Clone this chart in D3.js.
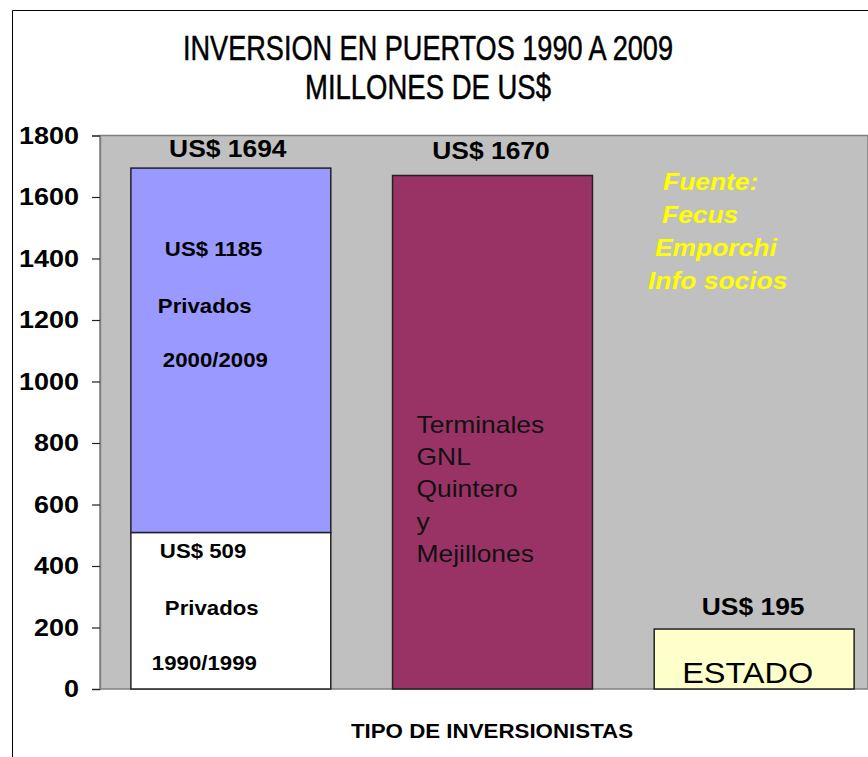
<!DOCTYPE html>
<html>
<head>
<meta charset="utf-8">
<script src="https://cdn.jsdelivr.net/npm/d3@7"></script>
<style>
  body { margin: 0; background: #fff; }
  svg { display: block; }
  text { font-family: "Liberation Sans", Arial, sans-serif; }
</style>
</head>
<body>
<div id="chart"></div>
<script>
// data
let categories = ['Privados', 'Terminales GNL', 'Estado'];
let seriesNames = ['1990/1999', '2000/2009'];
let privados = [509, 1185];          // bottom, top
let terminales = [1670];
let estado = [195];
let yTicks = [0, 200, 400, 600, 800, 1000, 1200, 1400, 1600, 1800];
let fuente = ['Fuente:', 'Fecus', 'Emporchi', 'Info socios'];
let gnlLines = ['Terminales', 'GNL', 'Quintero', 'y', 'Mejillones'];

let width = 868;
let height = 757;
let stretch = 1.1;   // text in the original is a bit wide

let svg = d3.select('#chart')
    .append('svg')
    .attr('width', width)
    .attr('height', height);

// outer frame
svg.append('path')
    .attr('d', 'M12.5,757 L12.5,10.5 L868,10.5')
    .attr('fill', 'none')
    .attr('stroke', '#000')
    .attr('stroke-width', 1);

let x = d3.scaleBand()
    .domain(categories)
    .range([100, 885])
    .paddingInner(0.236)
    .paddingOuter(0.118);

let y = d3.scaleLinear()
    .domain([0, 1800])
    .range([689, 135.5]);

// plot background
svg.append('rect')
    .attr('x', 100)
    .attr('y', y(1800))
    .attr('width', width - 100)
    .attr('height', y(0) - y(1800))
    .attr('fill', '#c0c0c0')
    .attr('stroke', '#808080')
    .attr('stroke-width', 1.5);

// y axis
let yAxis = d3.axisLeft(y)
    .tickValues(yTicks)
    .tickFormat(d3.format('d'))
    .tickSize(8)
    .tickPadding(13);
let gy = svg.append('g')
    .attr('transform', 'translate(100,0)')
    .call(yAxis);
gy.select('.domain').attr('stroke', '#808080').attr('stroke-width', 1.5);
gy.selectAll('.tick line').attr('stroke', '#222').attr('stroke-width', 1.2);
gy.selectAll('.tick text')
    .attr('class', 'st')
    .attr('font-family', '"Liberation Sans", Arial, sans-serif')
    .attr('font-weight', 'bold')
    .attr('font-size', 24.5)
    .attr('fill', '#000');

// stacked private bar
let stackData = [{ cat: categories[0], a: privados[0], b: privados[1] }];
let stack = d3.stack().keys(['a', 'b']);
let layers = stack(stackData);
let fills = ['#ffffff', '#9999ff'];
layers.forEach(function (layer, i) {
    svg.selectAll('rect.l' + i)
        .data(layer)
        .enter()
        .append('rect')
        .attr('class', 'l' + i)
        .attr('x', function (d) { return x(d.data.cat); })
        .attr('y', function (d) { return y(d[1]); })
        .attr('width', x.bandwidth())
        .attr('height', function (d) { return y(d[0]) - y(d[1]); })
        .attr('fill', fills[i])
        .attr('stroke', '#222')
        .attr('stroke-width', 1.5);
});

// single bars
let singles = [
    { cat: categories[1], v: terminales[0], fill: '#993366' },
    { cat: categories[2], v: estado[0], fill: '#ffffcc' }
];
svg.selectAll('rect.single')
    .data(singles)
    .enter()
    .append('rect')
    .attr('class', 'single')
    .attr('x', function (d) { return x(d.cat); })
    .attr('y', function (d) { return y(d.v); })
    .attr('width', x.bandwidth())
    .attr('height', function (d) { return y(0) - y(d.v); })
    .attr('fill', function (d) { return d.fill; })
    .attr('stroke', '#222')
    .attr('stroke-width', 1.5);

// total labels above bars
let totals = [privados[0] + privados[1], terminales[0], estado[0]];
let totalDx = [-3, -1.5, -1];
let totalDy = [11, 16, 14];
svg.selectAll('text.total')
    .data(totals)
    .enter()
    .append('text')
    .attr('class', 'total st')
    .attr('x', function (d, i) { return x(categories[i]) + x.bandwidth() / 2 + totalDx[i]; })
    .attr('y', function (d, i) { return y(d) - totalDy[i]; })
    .attr('text-anchor', 'middle')
    .attr('font-weight', 'bold')
    .attr('font-size', 24)
    .text(function (d) { return 'US$ ' + d; });

// labels inside private bar
let b0 = x(categories[0]);
let inner = [
    { t: 'US$ ' + privados[1], dx: 34, yy: 256 },
    { t: 'Privados', dx: 27, yy: 313 },
    { t: seriesNames[1], dx: 32, yy: 367 },
    { t: 'US$ ' + privados[0], dx: 29, yy: 558 },
    { t: 'Privados', dx: 34, yy: 615 },
    { t: seriesNames[0], dx: 21, yy: 670 }
];
svg.selectAll('text.inner')
    .data(inner)
    .enter()
    .append('text')
    .attr('class', 'inner st')
    .attr('x', function (d) { return b0 + d.dx; })
    .attr('y', function (d) { return d.yy; })
    .attr('font-weight', 'bold')
    .attr('font-size', 20.2)
    .text(function (d) { return d.t; });

// GNL text
svg.selectAll('text.gnl')
    .data(gnlLines)
    .enter()
    .append('text')
    .attr('class', 'gnl st')
    .attr('x', x(categories[1]) + 24)
    .attr('y', function (d, i) { return 433 + i * 32.2; })
    .attr('font-size', 24)
    .attr('fill', '#111')
    .text(function (d) { return d; });

// ESTADO
svg.append('text')
    .attr('class', 'st')
    .attr('x', x(categories[2]) + x.bandwidth() / 2 - 6.5)
    .attr('y', 683)
    .attr('text-anchor', 'middle')
    .attr('font-size', 29.5)
    .text('ESTADO');

// source note
let fx = [663, 662, 655, 648];
let fy = [190, 223, 256, 289];
svg.selectAll('text.src')
    .data(fuente)
    .enter()
    .append('text')
    .attr('class', 'src st')
    .attr('x', function (d, i) { return fx[i]; })
    .attr('y', function (d, i) { return fy[i]; })
    .attr('font-weight', 'bold')
    .attr('font-style', 'italic')
    .attr('font-size', 24)
    .attr('fill', '#ffff00')
    .text(function (d) { return d; });

// x axis title
svg.append('text')
    .attr('class', 'st')
    .attr('x', 492)
    .attr('y', 738)
    .attr('text-anchor', 'middle')
    .attr('font-weight', 'bold')
    .attr('font-size', 20.3)
    .text('TIPO DE INVERSIONISTAS');

// widen text a little, like the original
svg.selectAll('text.st').each(function () {
    let w = this.getComputedTextLength();
    d3.select(this)
        .attr('textLength', w * stretch)
        .attr('lengthAdjust', 'spacingAndGlyphs');
});

// title (narrow font)
let title = ['INVERSION EN PUERTOS 1990 A 2009', 'MILLONES DE US$'];
let titleW = [490, 246];
svg.selectAll('text.title')
    .data(title)
    .enter()
    .append('text')
    .attr('class', 'title')
    .attr('x', 428)
    .attr('y', function (d, i) { return 60 + i * 39; })
    .attr('text-anchor', 'middle')
    .attr('font-family', '"Liberation Sans Narrow", "Liberation Sans", Arial, sans-serif')
    .attr('font-size', 35)
    .attr('stroke', '#000')
    .attr('stroke-width', 0.5)
    .attr('textLength', function (d, i) { return titleW[i]; })
    .attr('lengthAdjust', 'spacingAndGlyphs')
    .text(function (d) { return d; });
</script>
</body>
</html>
